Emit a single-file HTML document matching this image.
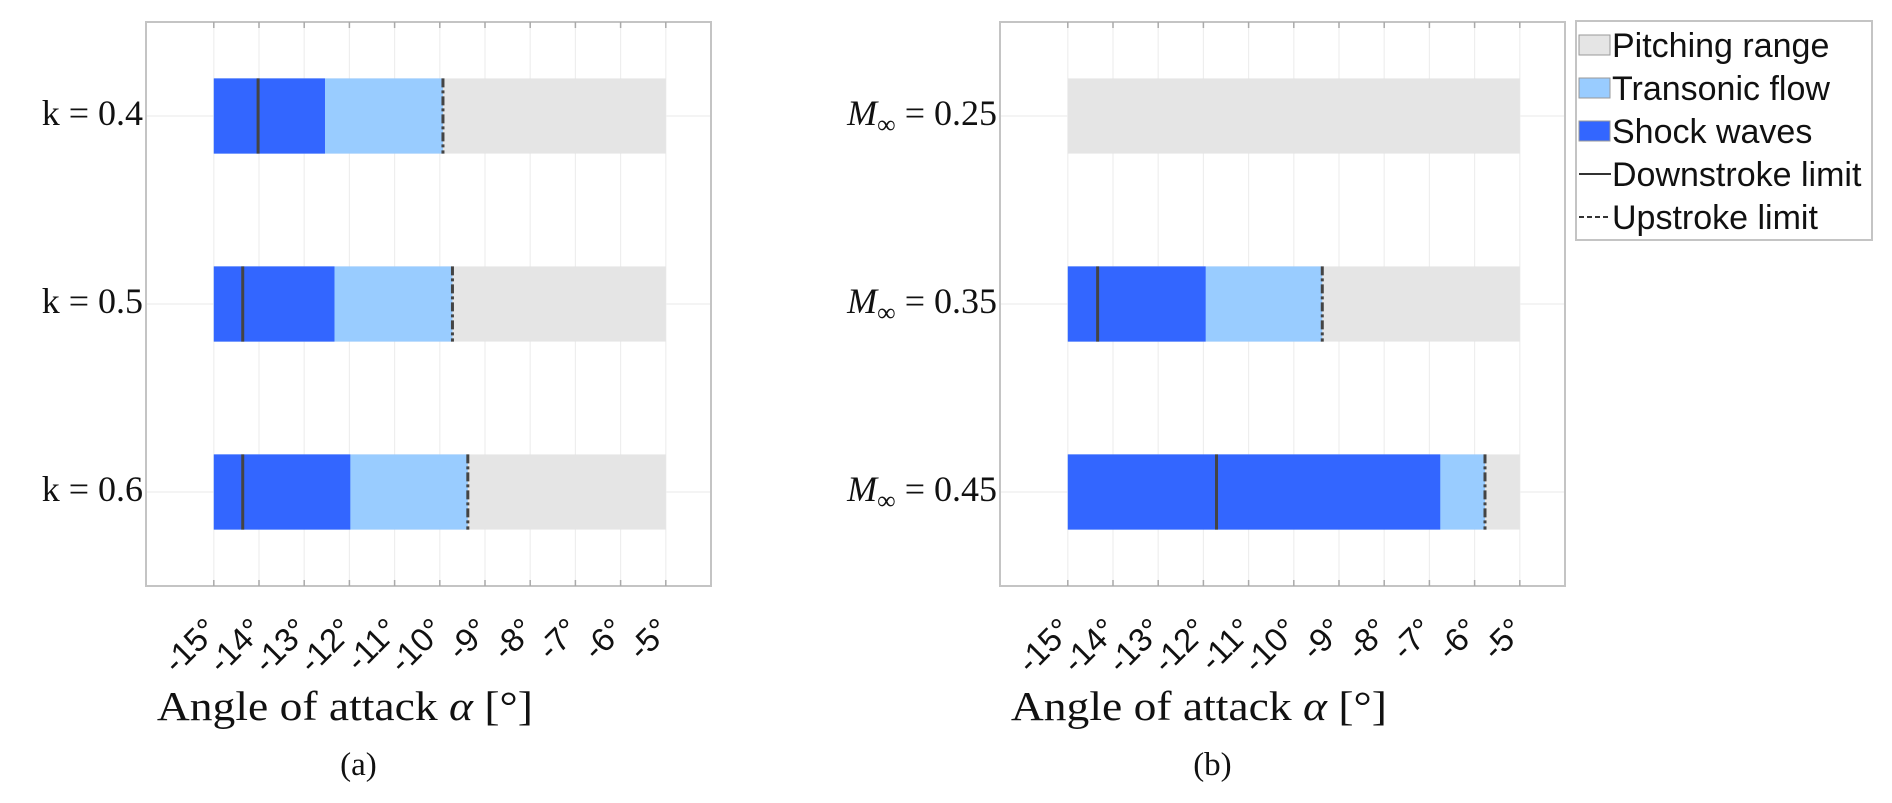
<!DOCTYPE html>
<html><head><meta charset="utf-8"><style>
html,body{margin:0;padding:0;background:#fff;}
svg{display:block;}
</style></head><body>
<svg id="fig" width="1892" height="803" viewBox="0 0 1892 803" xmlns="http://www.w3.org/2000/svg"></svg>
<script>
const tickValues = [-15,-14,-13,-12,-11,-10,-9,-8,-7,-6,-5];
const tickLabels = ['-15°','-14°','-13°','-12°','-11°','-10°','-9°','-8°','-7°','-6°','-5°'];
const catsA = ['k = 0.4','k = 0.5','k = 0.6'];
const pitchStartA = [-15,-15,-15];
const pitchEndA = [-5,-5,-5];
const shockEndA = [-12.54,-12.33,-11.98];
const transEndA = [-9.93,-9.72,-9.38];
const downA = [-14.02,-14.36,-14.36];
const catsB = ['0.25','0.35','0.45'];
const pitchStartB = [-15,-15,-15];
const pitchEndB = [-5,-5,-5];
const shockEndB = [null,-11.95,-6.76];
const transEndB = [null,-9.37,-5.77];
const downB = [null,-14.34,-11.71];

const NS='http://www.w3.org/2000/svg';
const svg=document.getElementById('fig');
function mk(tag,attrs,parent){const e=document.createElementNS(NS,tag);for(const k in attrs)e.setAttribute(k,attrs[k]);(parent||svg).appendChild(e);return e;}

function panel(id,left,right,cats,ps,pe,se,te,dn,isMach,sub){
  const top=22,bottom=586,xmin=-16.5,xmax=-4;
  const g=mk('g',{});
  
  
  const x=v=>left+(v-xmin)/(xmax-xmin)*(right-left);
  const y=i=>top+(i+1-0.5)/3*(bottom-top);
  const bh=0.4/3*(bottom-top);
  tickValues.forEach((t,i)=>{
    const l=mk('line',{x1:x(t),x2:x(t),y1:top,y2:bottom,stroke:'#eeeeee','stroke-width':1.2},g);
    
    
  });
  cats.forEach((c,i)=>{
    const l=mk('line',{x1:left,x2:right,y1:y(i),y2:y(i),stroke:'#eeeeee','stroke-width':1.2},g);
    
    
  });
  cats.forEach((c,i)=>{
    const r=mk('rect',{x:x(ps[i]),y:y(i)-bh/2,width:x(pe[i])-x(ps[i]),height:bh,fill:'#e5e5e5'},g);
    
    
    if(te[i]!=null){
      const r2=mk('rect',{x:x(ps[i]),y:y(i)-bh/2,width:x(te[i])-x(ps[i]),height:bh,fill:'#99ccff'},g);
      
      
    }
    if(se[i]!=null){
      const r3=mk('rect',{x:x(ps[i]),y:y(i)-bh/2,width:x(se[i])-x(ps[i]),height:bh,fill:'#3366ff'},g);
      
      
    }
    if(dn[i]!=null){
      const l=mk('line',{x1:x(dn[i]),x2:x(dn[i]),y1:y(i)-bh/2,y2:y(i)+bh/2,stroke:'#444','stroke-width':3},g);
      
      
    }
    if(te[i]!=null){
      const l=mk('line',{x1:x(te[i]),x2:x(te[i]),y1:y(i)-bh/2,y2:y(i)+bh/2,stroke:'#444','stroke-width':3,'stroke-dasharray':'9,3,3,3'},g);
      
      
    }
  });
  const f=mk('rect',{x:left,y:top,width:right-left,height:bottom-top,fill:'none',stroke:'#c4c4c4','stroke-width':2},g);
  
  
  tickValues.forEach((t,i)=>{
    mk('line',{x1:x(t),x2:x(t),y1:bottom,y2:bottom-6,stroke:'#aaa','stroke-width':1.5},g);
    mk('line',{x1:x(t),x2:x(t),y1:top,y2:top+6,stroke:'#aaa','stroke-width':1.5},g);
    const ax=x(t)+6, ay=632;
    const tx=mk('text',{x:ax,y:ay,'text-anchor':'end','font-family':'Liberation Sans, sans-serif','font-size':33,fill:'#111',transform:`rotate(-45 ${ax} ${ay})`},g);
    tx.textContent=tickLabels[i];
    
    
  });
  cats.forEach((c,i)=>{
    const tx=mk('text',{x:left-3,y:y(i)+9,'text-anchor':'end','font-family':'Liberation Serif, serif','font-size':36,fill:'#111'},g);
    if(isMach){
      const a=mk('tspan',{'font-style':'italic'},tx);a.textContent='M';
      const b=mk('tspan',{'font-size':26,dy:8},tx);b.textContent='∞';
      const cc=mk('tspan',{dy:-8},tx);cc.textContent=' = '+c;
    } else tx.textContent=c;
    
    
  });
  const tt=mk('text',{x:x(-12.1),y:720,'text-anchor':'middle','font-family':'Liberation Serif, serif','font-size':41,fill:'#111',textLength:376,lengthAdjust:'spacingAndGlyphs'},g);
  tt.innerHTML='Angle of attack <tspan font-style="italic">α</tspan> [°]';
  
  
  const st=mk('text',{x:x(-11.8),y:775,'text-anchor':'middle','font-family':'Liberation Serif, serif','font-size':33,fill:'#111'},g);
  st.textContent=sub;
  
  
}
panel('panel-a',146,711,catsA,pitchStartA,pitchEndA,shockEndA,transEndA,downA,false,'(a)');
panel('panel-b',1000,1565,catsB,pitchStartB,pitchEndB,shockEndB,transEndB,downB,true,'(b)');

const lg=mk('g',{});


mk('rect',{x:1576,y:21,width:296,height:219,fill:'#fff',stroke:'#c4c4c4','stroke-width':2},lg);
const legNames=['Pitching range','Transonic flow','Shock waves','Downstroke limit','Upstroke limit'];
const legFill=['#e5e5e5','#99ccff','#3366ff',null,null];
legNames.forEach((n,i)=>{
  const cy=45+i*43;
  const e=mk('g',{},lg);
  
  
  if(legFill[i]) mk('rect',{x:1579,y:cy-10,width:31,height:20,fill:legFill[i],stroke:'#999','stroke-width':1},e);
  else mk('line',{x1:1579,x2:1611,y1:cy,y2:cy,stroke:'#333','stroke-width':2,'stroke-dasharray':i==4?'5,3':'none'},e);
  const t=mk('text',{x:1612,y:cy+12,'font-family':'Liberation Sans, sans-serif','font-size':34,fill:'#111'},e);
  t.textContent=n;
});
</script>
</body></html>
